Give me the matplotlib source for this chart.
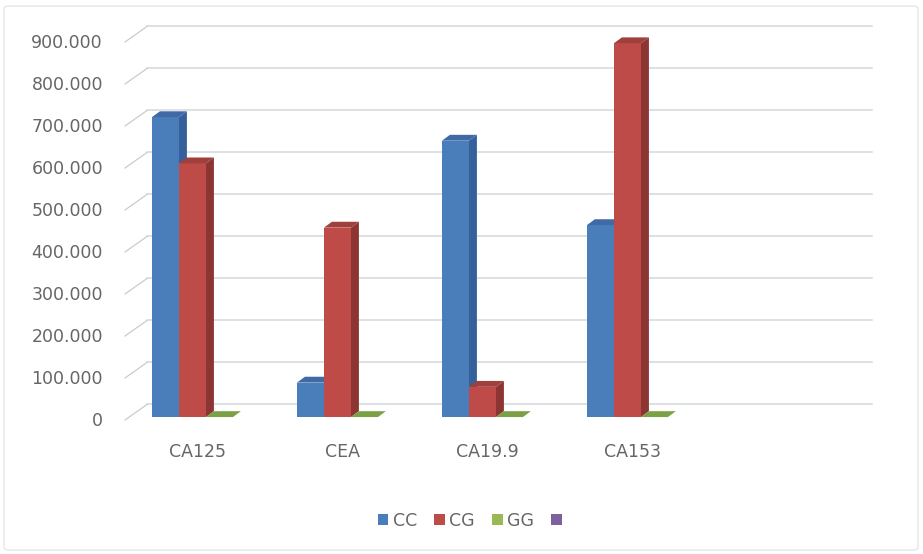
import numpy as np
import matplotlib.pyplot as plt
from matplotlib.patches import Polygon, Patch, FancyBboxPatch

# marker values per category
categories = ["CA125", "CEA", "CA19.9", "CA153", ""]
series_names = ["CC", "CG", "GG", ""]
cc_vals = [714, 82, 658, 457]
cg_vals = [604, 451, 72, 890]
gg_vals = [0, 0, 0, 0]
blank_vals = [np.nan, np.nan, np.nan, np.nan]
y_ticks = [0, 100, 200, 300, 400, 500, 600, 700, 800, 900]
y_tick_labels = ["0", "100.000", "200.000", "300.000", "400.000",
                 "500.000", "600.000", "700.000", "800.000", "900.000"]

front_col = ["#4A7EBB", "#BE4B48", "#98B954", "#7D60A0"]
side_col = ["#36609A", "#8C3533", "#6F8C3A", "#5E467F"]
top_col = ["#3F6AA6", "#A0403D", "#7CA046", "#6A5090"]
text_col = "#666666"

# fake 3d: back wall offset and bar depth offset (x in categories, y in values)
wall_dx, wall_dy = 22 / 145, 37
bar_dx, bar_dy = 8 / 145, 14
off_x, off_y = 0.058, 7
bar_w = 27 / 145

fig = plt.figure(figsize=(9.23, 5.54), dpi=100)
ax = fig.add_axes([0, 0, 1, 1])
ax.set_xlim(-125 / 145, 798 / 145)
ax.set_ylim(-134 / 0.42, 420 / 0.42)
ax.axis("off")

# back wall gridlines + little diagonal ticks on the left
for v in y_ticks:
    ax.plot([wall_dx, len(categories) + wall_dx], [v + wall_dy, v + wall_dy],
            color="#D5D9DC", lw=1.1, zorder=1)
    ax.plot([0, wall_dx], [v, v + wall_dy], color="#C8CCCF", lw=0.9, zorder=1)
    ax.text(-0.152, v - 3, y_tick_labels[y_ticks.index(v)], ha="right", va="center",
            fontsize=12.5, color=text_col)


def bar3d(x, h, k, z):
    y0 = off_y
    y1 = off_y + h
    if h > 0:
        ax.add_patch(Polygon([(x + bar_w, y0), (x + bar_w + bar_dx, y0 + bar_dy),
                              (x + bar_w + bar_dx, y1 + bar_dy), (x + bar_w, y1)],
                             closed=True, fc=side_col[k], ec="none", zorder=z))
        ax.add_patch(Polygon([(x, y0), (x + bar_w, y0), (x + bar_w, y1), (x, y1)],
                             closed=True, fc=front_col[k], ec="none", zorder=z))
    ax.add_patch(Polygon([(x, y1), (x + bar_w, y1), (x + bar_w + bar_dx, y1 + bar_dy),
                          (x + bar_dx, y1 + bar_dy)],
                         closed=True, fc=top_col[k], ec="none", zorder=z))


all_series = [cc_vals, cg_vals, gg_vals, blank_vals]
for i in range(len(cc_vals)):
    for k, vals in enumerate(all_series):
        if np.isnan(vals[i]):
            continue
        x = i + 0.5 - 2 * bar_w + k * bar_w + off_x
        bar3d(x, vals[i], k, 2 + k)

for i, c in enumerate(categories):
    ax.text(i + 0.5, -76, c, ha="center", va="center", fontsize=12.5, color=text_col)

handles = [Patch(fc=front_col[k], ec="none") for k in range(4)]
leg = fig.legend(handles, series_names, loc="center", bbox_to_anchor=(472 / 923, 1 - 521 / 554),
                 ncol=4, frameon=False, fontsize=12.5, handlelength=0.6, handleheight=0.6,
                 handletextpad=0.25, columnspacing=1.0, labelcolor=text_col)

# faint chart border
fig.patches.append(FancyBboxPatch((4 / 923, 4 / 554), 914 / 923, 544 / 554,
                                  boxstyle="round,pad=0,rounding_size=0.005",
                                  transform=fig.transFigure, fc="none", ec="#E6E6E6", lw=1))

fig.savefig("out.png", dpi=100)
